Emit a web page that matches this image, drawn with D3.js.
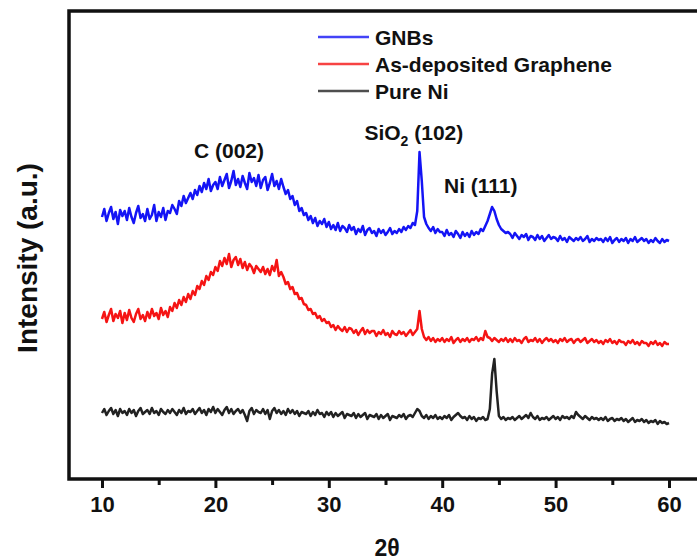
<!DOCTYPE html>
<html>
<head>
<meta charset="utf-8">
<script src="https://cdn.jsdelivr.net/npm/d3@7"></script>
<style>
  body { margin: 0; background: #fff; }
  text { font-family: "Liberation Sans", Arial, sans-serif; font-weight: bold; fill: #111; }
</style>
</head>
<body>
<svg id="chart"></svg>
<script>
// XRD patterns, 2θ from 10 to 60 in 0.2 steps (stacked, arbitrary units)
const twoThetaStart = 10;
const twoThetaStep = 0.2;

const gnbs = [
  262,270,258,266,272,260,267,255,269,263,
  268,259,271,262,256,266,273,261,265,258,
  270,260,264,274,258,267,262,271,259,268,
  266,274,270,265,278,273,283,276,281,286,
  280,289,284,293,287,296,290,300,288,294,
  297,290,302,293,299,305,291,298,308,294,
  300,292,303,296,290,306,297,301,293,304,
  291,299,302,289,296,305,293,298,290,300,
  292,285,289,280,283,274,278,268,271,264,
  266,259,263,256,261,253,258,255,260,252,
  257,250,254,249,256,248,253,251,247,254,
  249,252,245,250,247,253,244,249,251,246,
  248,243,250,246,249,244,247,251,245,248,
  246,250,247,252,249,253,251,256,254,268,
  327,298,262,255,251,248,252,246,250,247,
  247,243,249,244,246,242,248,245,241,247,
  243,246,242,248,244,247,245,250,248,253,
  258,265,272,268,260,254,250,248,246,247,
  245,241,246,243,240,244,242,245,239,243,
  242,239,244,240,243,238,241,244,240,242,
  241,238,243,239,241,237,242,240,238,241,
  239,242,238,240,243,237,240,238,241,239,
  240,237,241,238,242,236,239,241,237,240,
  238,241,236,240,238,242,237,239,241,238,
  240,236,239,237,241,238,236,240,237,239,
  238
];

const asDeposited = [
  160,167,157,164,170,158,165,161,168,156,
  166,159,169,161,157,165,170,160,164,158,
  167,161,170,163,166,160,171,164,168,162,
  172,168,176,171,179,174,182,177,185,180,
  188,184,193,190,198,194,203,199,207,204,
  212,208,218,213,221,215,225,212,219,222,
  214,220,211,217,209,215,212,206,213,210,
  207,212,205,210,204,213,208,219,203,207,
  202,195,197,190,192,185,186,180,181,175,
  174,169,170,165,166,161,163,158,160,156,
  157,152,154,149,153,150,148,152,147,151,
  150,146,149,144,148,151,145,149,146,148,
  148,143,147,145,149,144,146,142,148,145,
  144,148,145,147,143,146,149,144,147,150,
  168,150,142,139,142,138,141,137,140,138,
  141,137,140,138,142,136,139,141,137,140,
  138,141,137,140,139,142,138,141,139,148,
  142,141,138,141,139,137,140,138,141,137,
  140,137,141,138,139,136,140,142,137,139,
  138,141,137,140,136,139,141,138,140,137,
  139,136,140,138,141,137,139,140,136,139,
  140,137,139,141,136,138,140,137,139,136,
  138,135,139,137,140,136,138,135,139,137,
  137,134,138,136,139,135,137,134,138,136,
  136,133,137,135,138,134,136,133,137,135,
  135
];

const pureNi = [
  66,70,64,68,71,65,69,63,70,66,
  68,64,70,66,69,63,68,71,65,67,
  69,65,71,66,68,64,70,67,65,69,
  66,70,67,64,69,66,71,65,68,67,
  70,65,68,71,66,69,64,70,67,72,
  66,70,67,64,69,72,66,70,65,68,
  70,66,69,64,58,68,71,65,69,67,
  66,70,65,69,60,68,71,66,69,65,
  68,64,70,66,69,65,68,63,67,66,
  65,68,63,67,64,69,65,66,62,67,
  64,67,62,66,63,65,67,61,65,64,
  63,66,61,65,62,64,66,60,64,63,
  62,65,60,64,61,63,65,59,63,62,
  61,64,62,65,60,63,64,62,66,70,
  68,63,61,64,60,63,61,64,60,62,
  60,63,61,64,59,62,64,66,63,61,
  62,59,63,60,62,58,61,60,62,59,
  60,70,105,120,88,63,60,62,59,61,
  60,62,59,61,63,60,62,64,61,66,
  62,60,63,59,61,60,62,59,61,63,
  60,62,59,63,61,62,60,63,61,67,
  64,62,60,63,61,59,62,60,61,59,
  61,59,62,58,60,61,58,60,59,61,
  58,60,57,59,61,57,59,58,60,57,
  59,56,58,57,59,55,58,56,57,55,
  56
];

const seriesNames = ['GNBs', 'As-deposited Graphene', 'Pure Ni'];
const seriesColors = ['#1414f5', '#f51414', '#222222'];
const seriesValues = [gnbs, asDeposited, pureNi];

const majorTicks = [10, 20, 30, 40, 50, 60];
const minorTicks = [15, 25, 35, 45, 55];

// Peak labels: 2θ of the label centre, intensity of its baseline
const peakLabels = [
  { text: 'C (002)', at: 21.2, level: 321 },
  { text: 'SiO', sub: '2', tail: ' (102)', at: 37.5, level: 339 },
  { text: 'Ni (111)', at: 43.4, level: 286 }
];

// Layout
const width = 697;
const height = 560;
const frame = { left: 69, top: 11, right: 706, bottom: 479 };

const xScale = d3.scaleLinear().domain([10, 60]).range([102, 669]);
const yScale = d3.scaleLinear().domain([0, 468]).range([frame.bottom, frame.top]);

const svg = d3.select('#chart')
    .attr('width', width)
    .attr('height', height);

// Traces
const line = d3.line()
    .x((d, i) => xScale(twoThetaStart + i * twoThetaStep))
    .y(d => yScale(d));

svg.selectAll('.trace')
    .data(seriesValues)
    .enter().append('path')
    .attr('class', 'trace')
    .attr('d', d => line(d))
    .attr('fill', 'none')
    .attr('stroke', (d, i) => seriesColors[i])
    .attr('stroke-width', 2.5)
    .attr('stroke-linejoin', 'round');

// Frame (right edge runs off the picture)
svg.append('rect')
    .attr('x', frame.left)
    .attr('y', frame.top)
    .attr('width', frame.right - frame.left)
    .attr('height', frame.bottom - frame.top)
    .attr('fill', 'none')
    .attr('stroke', '#111')
    .attr('stroke-width', 3.5);

// Bottom axis, major + minor ticks
const majorAxis = svg.append('g')
    .attr('transform', `translate(0,${frame.bottom})`)
    .call(d3.axisBottom(xScale).tickValues(majorTicks).tickSize(9).tickPadding(8).tickFormat(d3.format('d')));
majorAxis.select('.domain').remove();
majorAxis.selectAll('line').attr('stroke', '#111').attr('stroke-width', 3);
majorAxis.selectAll('text').attr('font-size', 22).attr('fill', '#111')
    .attr('font-family', '"Liberation Sans", Arial, sans-serif').attr('font-weight', 'bold');

const minorAxis = svg.append('g')
    .attr('transform', `translate(0,${frame.bottom})`)
    .call(d3.axisBottom(xScale).tickValues(minorTicks).tickSize(6).tickFormat(''));
minorAxis.select('.domain').remove();
minorAxis.selectAll('line').attr('stroke', '#111').attr('stroke-width', 3);

// Axis titles
svg.append('text')
    .attr('x', 387)
    .attr('y', 556)
    .attr('text-anchor', 'middle')
    .attr('font-size', 23)
    .text('2θ');

svg.append('text')
    .attr('transform', 'translate(37,258) rotate(-90)')
    .attr('text-anchor', 'middle')
    .attr('font-size', 28)
    .text('Intensity (a.u.)');

// Peak labels
peakLabels.forEach(p => {
    const t = svg.append('text')
        .attr('x', xScale(p.at))
        .attr('y', yScale(p.level))
        .attr('text-anchor', 'middle')
        .attr('font-size', 21);
    t.append('tspan').text(p.text);
    if (p.sub) {
        t.append('tspan').attr('font-size', 14).attr('dy', 6).text(p.sub);
        t.append('tspan').attr('dy', -6).text(p.tail);
    }
});

// Legend
const legend = svg.selectAll('.legend')
    .data(seriesNames)
    .enter().append('g')
    .attr('class', 'legend')
    .attr('transform', (d, i) => `translate(318,${37 + i * 27})`);

legend.append('line')
    .attr('x1', 0)
    .attr('x2', 51)
    .attr('stroke', (d, i) => seriesColors[i])
    .attr('stroke-opacity', 0.8)
    .attr('stroke-width', 2.5);

legend.append('text')
    .attr('x', 57)
    .attr('dy', '0.36em')
    .attr('font-size', 21)
    .text(d => d);
</script>
</body>
</html>
